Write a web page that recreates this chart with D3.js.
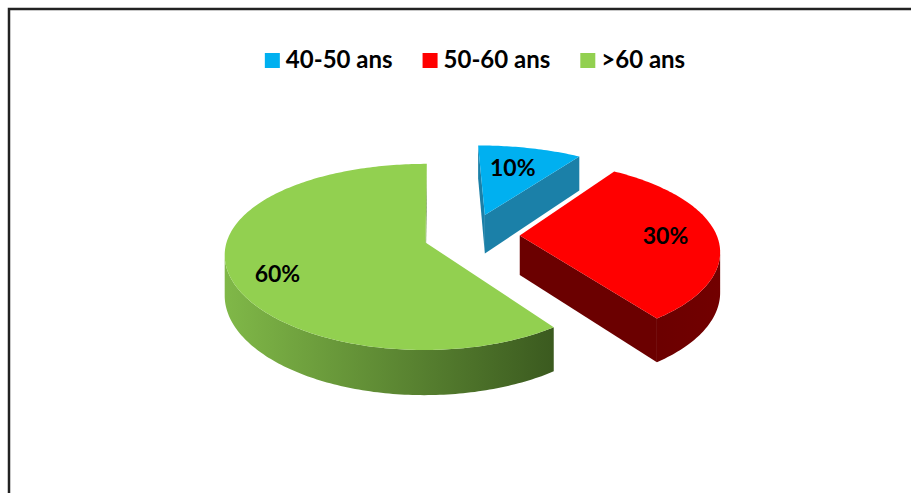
<!DOCTYPE html>
<html>
<head>
<meta charset="utf-8">
<script src="https://cdn.jsdelivr.net/npm/d3@7"></script>
<style>
  html, body { margin: 0; padding: 0; background: #ffffff; }
  svg { display: block; font-family: Lato, "Open Sans", sans-serif; }
</style>
</head>
<body>
<svg id="chart" width="911" height="493"></svg>
<script>
// Age groups and their share (%)
const categories = ["40-50 ans", "50-60 ans", ">60 ans"];
const values = [10, 30, 60];
const valueLabels = ["10%", "30%", "60%"];

// Colours: top face, curved side (left -> right), cut face
const topColors = ["#00B0F0", "#FF0000", "#92D050"];
const sideLight = ["#1C8DB9", "#5E0000", "#80B848"];
const sideDark = ["#0E6A8E", "#720000", "#3B5A1F"];
const faceColors = ["#1B80A8", "#6B0000", "#5A8A30"];

// Label anchor inside each slice: fraction of the slice sweep, fraction of radius
const labelAnchor = [[0.45, 0.66], [0.5, 0.74], [0.472, 0.78]];

const svg = d3.select("#chart");
const W = 911, H = 493;

// Frame
svg.append("path")
  .attr("d", `M9,${H}V9H${W}`)
  .attr("fill", "none")
  .attr("stroke", "#222")
  .attr("stroke-width", 2.5);

// 3D view of the pie: ellipse radii, thickness, explosion and a light perspective
const view = {
  cx: 471.5, cy: 235.5,   // pie centre (orthographic)
  rx: 197, ry: 109.7,     // horizontal / vertical radius
  depth: 39.5,            // thickness in px
  explode: 0.245,         // slice offset, in radius units
  persp: 0.132,           // scale change per radius unit of depth
  px: 435.6, py: 378      // perspective origin
};

// x to the right, z toward the viewer (radius units), h = 0 top, 1 bottom
function project(x, z, h) {
  const xo = view.cx + view.rx * x;
  const yo = view.cy + view.ry * z + view.depth * h;
  const s = 1 + view.persp * z;
  return [view.px + (xo - view.px) * s, view.py + (yo - view.py) * s];
}

const pie = d3.pie().sort(null).value(d => d).startAngle(0).endAngle(2 * Math.PI);
const arcs = pie(values);

const slices = arcs.map((a, i) => {
  const mid = (a.startAngle + a.endAngle) / 2;
  return {
    i, a0: a.startAngle, a1: a.endAngle,
    ox: view.explode * Math.sin(mid),
    oz: -view.explode * Math.cos(mid)
  };
}).sort((p, q) => p.oz - q.oz);   // back to front

function slicePoint(sl, ang, r, h) {
  return project(sl.ox + r * Math.sin(ang), sl.oz - r * Math.cos(ang), h);
}

function signedArea(pts) {
  let s = 0;
  for (let k = 0; k < pts.length; k++) {
    const p = pts[k], q = pts[(k + 1) % pts.length];
    s += p[0] * q[1] - q[0] * p[1];
  }
  return s / 2;
}

const poly = d3.line().curve(d3.curveLinearClosed);
const defs = svg.append("defs");
const pieG = svg.append("g");

slices.forEach(sl => {
  const i = sl.i;
  const n = Math.max(12, Math.ceil((sl.a1 - sl.a0) / (Math.PI / 180)));
  const angs = d3.range(n + 1).map(k => sl.a0 + (sl.a1 - sl.a0) * k / n);
  const top = angs.map(t => slicePoint(sl, t, 1, 0));
  const bot = angs.map(t => slicePoint(sl, t, 1, 1));
  const V = slicePoint(sl, 0, 0, 0), Vb = slicePoint(sl, 0, 0, 1);

  const g = pieG.append("g");

  // gradient for the curved side, spread over the slice width
  const xs = top.map(p => p[0]).concat([V[0]]);
  const gid = "side" + i;
  const grad = defs.append("linearGradient").attr("id", gid)
    .attr("gradientUnits", "userSpaceOnUse")
    .attr("x1", d3.min(xs)).attr("x2", d3.max(xs)).attr("y1", 0).attr("y2", 0);
  grad.append("stop").attr("offset", 0).attr("stop-color", sideLight[i]);
  grad.append("stop").attr("offset", 1).attr("stop-color", sideDark[i]);

  // cut faces (only those turned toward the viewer)
  const startFace = [V, top[0], bot[0], Vb];
  const endFace = [V, top[n], bot[n], Vb];
  [[startFace, signedArea(startFace) < 0], [endFace, signedArea(endFace) > 0]]
    .forEach(([pts, vis]) => {
      if (vis) g.append("path").attr("d", poly(pts)).attr("fill", faceColors[i]);
    });

  // curved side: contiguous runs of visible segments
  const runs = [];
  let cur = null;
  for (let k = 0; k < n; k++) {
    const vis = signedArea([top[k], top[k + 1], bot[k + 1], bot[k]]) < 0;
    if (vis) {
      if (!cur) { cur = [k]; runs.push(cur); }
      cur.push(k + 1);
    } else cur = null;
  }
  runs.forEach(run => {
    const pts = run.map(k => top[k]).concat(run.slice().reverse().map(k => bot[k]));
    g.append("path").attr("d", poly(pts)).attr("fill", `url(#${gid})`);
  });

  // top face
  g.append("path").attr("d", poly([V].concat(top))).attr("fill", topColors[i]);

  // value label
  const [t, r] = labelAnchor[i];
  const lp = slicePoint(sl, sl.a0 + (sl.a1 - sl.a0) * t, r, 0);
  g.append("text")
    .attr("x", lp[0]).attr("y", lp[1]).attr("dy", "0.36em")
    .attr("text-anchor", "middle")
    .attr("font-size", 23).attr("font-weight", 700).attr("fill", "#000")
    .text(valueLabels[i]);
});

// Legend
const legendCenter = 475, legendBaseline = 68, box = 15, boxGap = 6, itemGap = 30;
const legend = svg.append("g");
const items = legend.selectAll("g").data(categories).join("g");
items.append("rect")
  .attr("y", legendBaseline - box).attr("width", box).attr("height", box)
  .attr("fill", (d, i) => topColors[i]);
items.append("text")
  .attr("x", box + boxGap).attr("y", legendBaseline)
  .attr("font-size", 24).attr("font-weight", 700).attr("fill", "#000")
  .text(d => d);
const widths = items.nodes().map(n => box + boxGap + n.querySelector("text").getComputedTextLength());
const total = d3.sum(widths) + itemGap * (widths.length - 1);
let x = legendCenter - total / 2;
items.each(function (d, i) {
  d3.select(this).attr("transform", `translate(${x},0)`);
  x += widths[i] + itemGap;
});
</script>
</body>
</html>
